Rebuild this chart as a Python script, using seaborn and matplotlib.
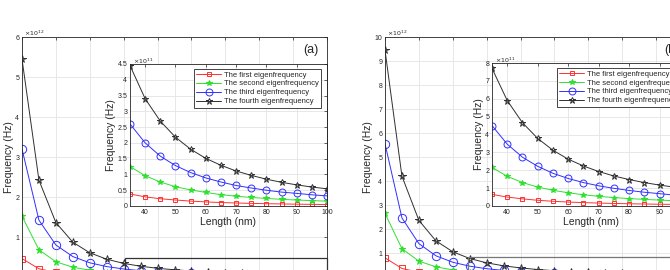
import matplotlib
matplotlib.use("Agg")
import matplotlib.pyplot as plt
import seaborn as sns
from matplotlib.patches import Rectangle
from matplotlib.ticker import FormatStrFormatter

# beam length (nm) and eigenfrequencies in units of 1e11 Hz
length = [10, 15, 20, 25, 30, 35, 40, 45, 50, 55, 60, 65, 70, 75, 80, 85, 90, 95, 100]

first_a = [4.6, 2.05, 1.15, 0.74, 0.52, 0.38, 0.29, 0.23, 0.19, 0.155, 0.13, 0.11, 0.095, 0.083, 0.073, 0.065, 0.058, 0.052, 0.047]
second_a = [15.2, 6.8, 3.8, 2.45, 1.7, 1.25, 0.96, 0.76, 0.61, 0.51, 0.43, 0.36, 0.31, 0.27, 0.24, 0.21, 0.19, 0.17, 0.155]
third_a = [32.0, 14.2, 8.0, 5.1, 3.55, 2.6, 2.0, 1.58, 1.28, 1.06, 0.89, 0.76, 0.65, 0.57, 0.50, 0.44, 0.40, 0.355, 0.32]
fourth_a = [54.5, 24.2, 13.6, 8.7, 6.05, 4.45, 3.4, 2.69, 2.18, 1.8, 1.51, 1.29, 1.11, 0.97, 0.85, 0.75, 0.67, 0.60, 0.545]

first_b = [8.0, 3.55, 2.0, 1.28, 0.89, 0.65, 0.50, 0.40, 0.32, 0.265, 0.22, 0.19, 0.165, 0.143, 0.125, 0.111, 0.099, 0.089, 0.08]
second_b = [26.5, 11.8, 6.6, 4.25, 2.95, 2.16, 1.66, 1.31, 1.06, 0.88, 0.74, 0.63, 0.54, 0.47, 0.415, 0.37, 0.33, 0.295, 0.265]
third_b = [55.5, 24.6, 13.9, 8.85, 6.15, 4.5, 3.46, 2.73, 2.22, 1.83, 1.54, 1.31, 1.13, 0.99, 0.87, 0.77, 0.69, 0.61, 0.555]
fourth_b = [94.5, 42.0, 23.6, 15.1, 10.5, 7.7, 5.9, 4.66, 3.78, 3.12, 2.62, 2.24, 1.93, 1.68, 1.48, 1.31, 1.17, 1.05, 0.945]

labels = ["The first eigenfrequency", "The second eigenfrequency",
          "The third eigenfrequency", "The fourth eigenfrequency"]

sns.set_theme(style="white")
plt.rcParams["font.family"] = ["Liberation Sans", "DejaVu Sans"]
plt.rcParams["mathtext.fontset"] = "dejavusans"

W, H = 670, 270
fig = plt.figure(figsize=(6.7, 2.7), dpi=100)


def rect(l, t, r, b):
    return [l / W, 1 - b / H, (r - l) / W, (b - t) / H]


styles = [
    dict(color="#ff3030", marker="s", mfc="none", mec="#ff3030"),
    dict(color="#30e030", marker="*", mfc="#30e030", mec="#30e030"),
    dict(color="#3030ff", marker="o", mfc="none", mec="#3030ff"),
    dict(color="#303030", marker="*", mfc="none", mec="#303030"),
]
main_ms = [4, 4.5, 6, 5.5]
inset_ms = [3.5, 4, 5, 5]


def style_axes(ax, fs):
    for s in ax.spines.values():
        s.set_visible(True)
        s.set_color("#262626")
        s.set_linewidth(0.6)
    ax.tick_params(direction="in", length=2, width=0.5, labelsize=fs,
                   colors="#262626", pad=2, top=True, right=True,
                   labeltop=False, labelright=False)
    ax.grid(True, color="#e3e3e3", linewidth=0.6)
    ax.set_axisbelow(True)


panels = [
    dict(series=[first_a, second_a, third_a, fourth_a], main=(22, 37, 327, 277),
         inset=(130, 64, 327, 206), ymax=6, iymax=4.5, istep=0.5, tag="(a)",
         tagx=303, box=(125, 258, 327, 300), boxc="#333333", last=100),
    dict(series=[first_b, second_b, third_b, fourth_b], main=(385, 37, 690, 277),
         inset=(492, 63, 690, 206), ymax=10, iymax=8, istep=1, tag="(b)",
         tagx=664, box=(468, 257, 700, 300), boxc="#777777", last=90),
]

for p in panels:
    ax = fig.add_axes(rect(*p["main"]))
    for vals, st, ms in zip(p["series"], styles, main_ms):
        sns.lineplot(x=length, y=[v / 10 for v in vals], ax=ax, lw=0.7,
                     markersize=ms, markeredgewidth=0.7, **st)
    ax.set_xlim(10, 100)
    ax.set_ylim(0, p["ymax"])
    ax.set_xticks(range(10, 101, 10))
    # the zero tick and the x tick labels fall below the cropped figure edge
    ax.set_yticks(range(1, p["ymax"] + 1))
    style_axes(ax, 5)
    ax.tick_params(axis="x", labelbottom=False)
    ax.set_ylabel("Frequency (Hz)", fontsize=7.5, labelpad=1)
    x0 = p["main"][0]
    fig.text((x0 + 2) / W, 1 - 33 / H, r"$\times 10^{12}$", fontsize=4.5,
             color="#262626", ha="left", va="center")
    fig.text(p["tagx"] / W, 1 - 50 / H, p["tag"], fontsize=9,
             color="#262626", ha="left", va="center")

    ins = fig.add_axes(rect(*p["inset"]))
    ins.set_facecolor("white")
    for vals, st, ms, lab in zip(p["series"], styles, inset_ms, labels):
        sns.lineplot(x=length[5:], y=vals[5:], ax=ins, lw=0.7, label=lab,
                     markersize=ms, markeredgewidth=0.7, **st)
    ins.set_xlim(35, 100)
    ins.set_ylim(0, p["iymax"])
    ins.set_xticks(range(40, 101, 10))
    ins.set_xticklabels([str(t) if t <= p["last"] else "" for t in range(40, 101, 10)])
    nt = int(round(p["iymax"] / p["istep"]))
    ins.set_yticks([i * p["istep"] for i in range(nt + 1)])
    ins.yaxis.set_major_formatter(FormatStrFormatter("%g"))
    style_axes(ins, 5)
    ins.set_xlabel("Length (nm)", fontsize=7.5, labelpad=1)
    ins.set_ylabel("Frequency (Hz)", fontsize=7.5, labelpad=1)
    ix0 = p["inset"][0]
    fig.text((ix0 + 3) / W, 1 - (p["inset"][1] - 3) / H, r"$\times 10^{11}$",
             fontsize=4.5, color="#262626", ha="left", va="center")
    leg = ins.legend(loc="upper right", bbox_to_anchor=(0.97, 0.965),
                     fontsize=5.5, frameon=True, fancybox=False, framealpha=1,
                     handlelength=3.2, labelspacing=0.2, borderpad=0.3,
                     handletextpad=0.4, borderaxespad=0)
    leg.get_frame().set_edgecolor("#262626")
    leg.get_frame().set_linewidth(0.6)

    bl, bt, br, bb = p["box"]
    fig.patches.append(Rectangle((bl / W, 1 - bb / H), (br - bl) / W, (bb - bt) / H,
                                 transform=fig.transFigure, fill=False,
                                 edgecolor=p["boxc"], lw=0.9, clip_on=False))

fig.savefig("out.png", dpi=100)
